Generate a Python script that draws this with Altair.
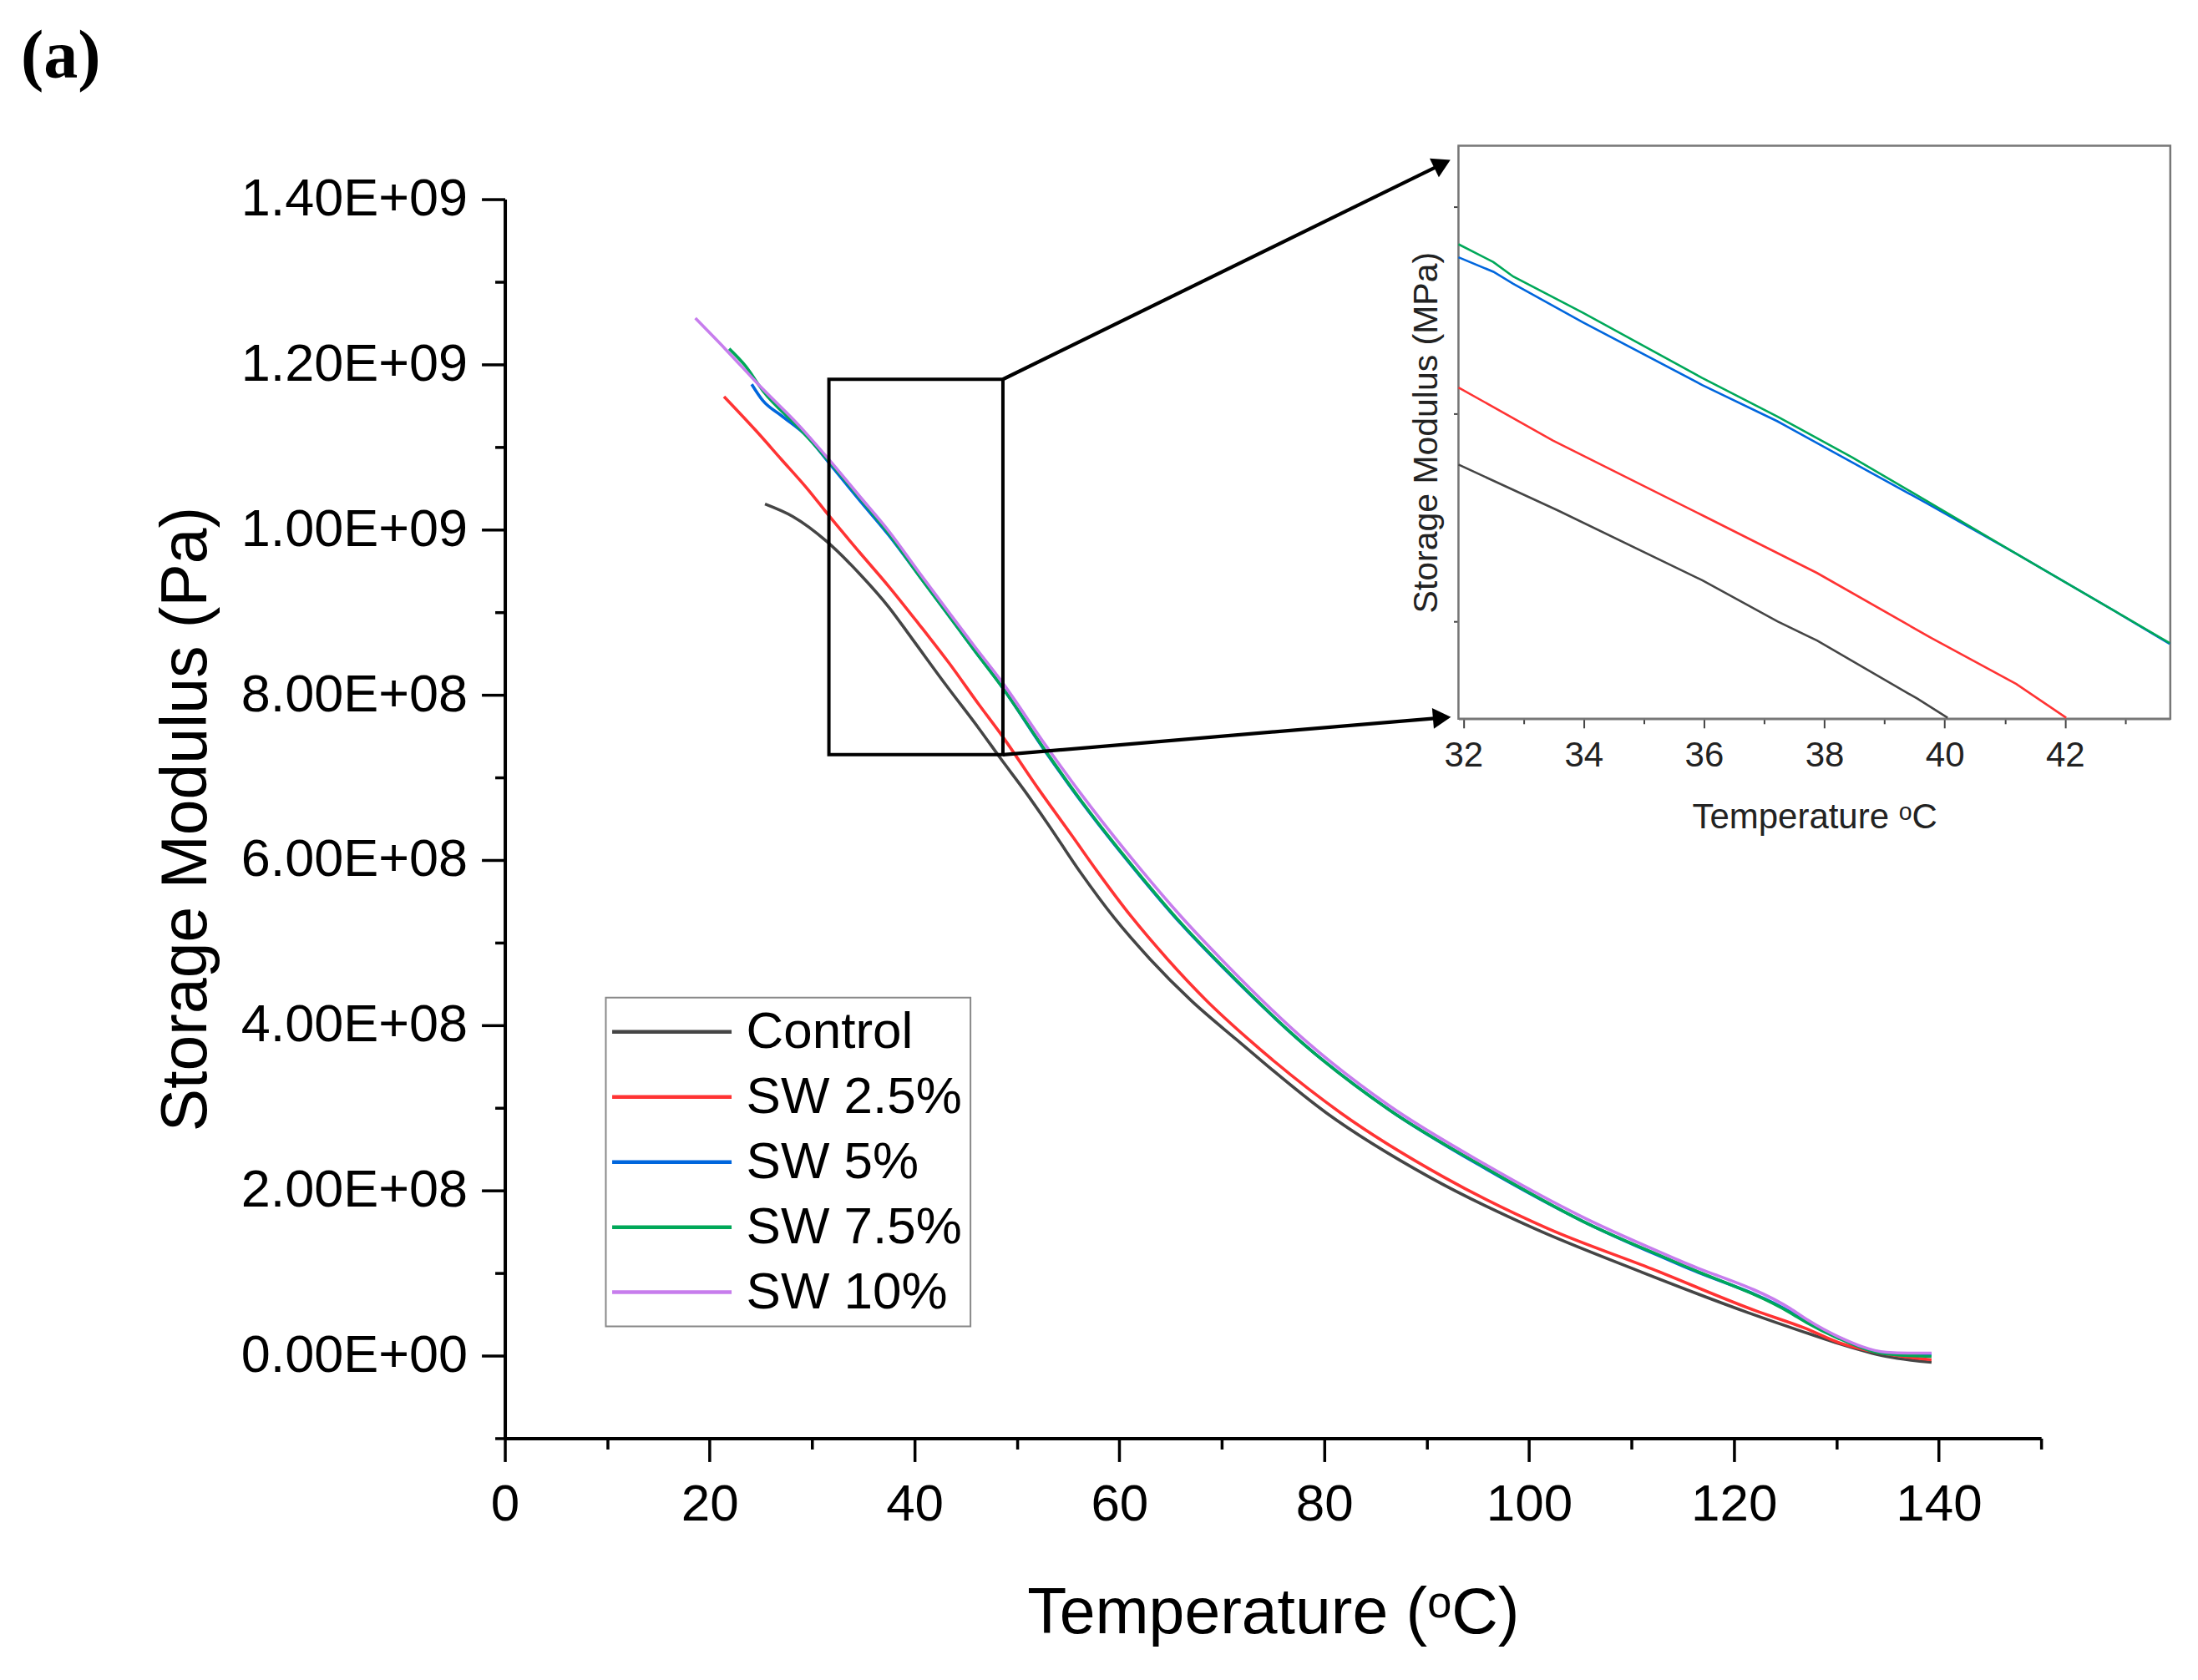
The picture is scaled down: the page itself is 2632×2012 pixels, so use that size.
import math
import altair as alt
import pandas as pd

# ---------------- data ----------------
SERIES = ["Control", "SW 2.5%", "SW 5%", "SW 7.5%", "SW 10%"]
COLORS = ["#454545", "#ff3333", "#0066dd", "#00a859", "#c77ded"]

# main chart: temperature (degC) and storage modulus (x 1e8 Pa)
CONTROL_T = [25.4, 28.1, 31.4, 34.6, 37.5, 39.7, 43.0, 46.3, 48.4, 50.8, 53.0, 56.2, 59.5, 63.0, 67.0, 71.4, 80.2, 90.3, 100.5, 110.6, 121.4, 126.5, 129.9, 134.9, 139.3]
CONTROL_E = [10.31, 10.16, 9.86, 9.47, 9.06, 8.69, 8.13, 7.59, 7.23, 6.83, 6.44, 5.85, 5.30, 4.80, 4.30, 3.83, 2.94, 2.16, 1.54, 1.03, 0.52, 0.30, 0.16, -0.01, -0.08]

SW25_T = [21.4, 24.5, 27.0, 29.5, 31.7, 34.6, 37.5, 40.4, 43.4, 46.3, 48.4, 52.1, 55.4, 57.8, 61.2, 64.7, 68.5, 72.8, 81.6, 91.7, 101.8, 112.0, 122.1, 127.0, 130.2, 134.9, 139.3]
SW25_E = [11.61, 11.20, 10.85, 10.50, 10.16, 9.73, 9.31, 8.86, 8.38, 7.88, 7.53, 6.86, 6.29, 5.87, 5.31, 4.80, 4.30, 3.81, 2.94, 2.16, 1.54, 1.05, 0.545, 0.33, 0.16, 0.02, -0.05]

SW5_T = [24.1, 25.2, 27.0, 29.5, 31.7, 34.6, 37.5, 40.4, 43.4, 45.9, 48.4, 52.8, 56.2, 62.0, 66.0, 70.1, 78.2, 86.3, 95.8, 105.2, 114.7, 125.5, 127.1, 130.2, 134.9, 139.3]
SW5_E = [11.76, 11.56, 11.38, 11.13, 10.80, 10.36, 9.93, 9.45, 8.95, 8.53, 8.12, 7.31, 6.72, 5.81, 5.23, 4.70, 3.75, 2.98, 2.26, 1.63, 1.10, 0.53, 0.41, 0.22, 0.03, 0.02]

SW75_T = [21.9, 23.5, 25.2, 28.8, 31.7, 34.6, 37.5, 40.4, 43.4, 45.9, 48.4, 52.8, 56.2, 62.0, 66.0, 70.1, 78.2, 86.3, 95.8, 105.2, 114.7, 125.5, 127.1, 130.2, 134.9, 139.3]
SW75_E = [12.19, 11.98, 11.68, 11.22, 10.82, 10.39, 9.95, 9.45, 8.95, 8.53, 8.12, 7.32, 6.73, 5.82, 5.24, 4.71, 3.75, 2.98, 2.27, 1.63, 1.11, 0.52, 0.40, 0.21, 0.02, -0.01]

SW10_T = [18.6, 21.5, 25.2, 28.8, 31.7, 34.6, 37.5, 40.4, 43.4, 45.9, 48.4, 52.8, 56.2, 62.0, 66.0, 70.1, 78.2, 86.3, 95.8, 105.2, 114.7, 125.5, 127.1, 130.2, 134.9, 137.0, 139.3]
SW10_E = [12.56, 12.19, 11.70, 11.25, 10.84, 10.41, 9.98, 9.49, 8.99, 8.58, 8.18, 7.39, 6.81, 5.90, 5.32, 4.78, 3.81, 3.03, 2.31, 1.68, 1.15, 0.57, 0.44, 0.23, 0.04, 0.03, 0.03]

# inset: temperature (degC) and storage modulus (MPa)
IN_CONTROL_T = [31.92, 33.57, 35.97, 37.22, 37.88, 39.54, 40.05]
IN_CONTROL_E = [975.6, 953.5, 919.8, 900.0, 890.7, 862.8, 853.5]
IN_SW25_T = [31.92, 33.49, 35.97, 37.88, 39.78, 41.19, 42.02]
IN_SW25_E = [1012.8, 987.2, 951.2, 923.3, 891.9, 869.8, 853.5]
IN_SW5_T = [31.92, 32.50, 32.83, 33.99, 35.97, 37.22, 38.46, 39.70, 41.19, 42.84, 43.74]
IN_SW5_E = [1075.6, 1068.6, 1062.8, 1044.2, 1014.0, 996.5, 976.7, 957.0, 932.6, 904.7, 889.1]
IN_SW75_T = [31.92, 32.50, 32.83, 33.99, 35.97, 37.22, 38.46, 39.70, 41.19, 42.84, 43.74]
IN_SW75_E = [1081.9, 1073.3, 1066.3, 1048.8, 1017.4, 998.8, 979.1, 958.1, 932.6, 904.7, 889.5]

# zoom box (main-chart data units) and arrow tips
BOX_T = [31.64, 48.63]
BOX_E = [7.275e8, 1.182e9]
ARROW_TIP_T = [92.41, 92.47]
ARROW_TIP_E = [1.4481e9, 7.733e8]

X_TICKS = list(range(0, 151, 10))
Y_TICKS = [v * 1e8 for v in range(-1, 15)]
Y_MAJOR = [0, 2e8, 4e8, 6e8, 8e8, 1e9, 1.2e9, 1.4e9]
Y_TICK_LABELS = ["0.00E+00", "2.00E+08", "4.00E+08", "6.00E+08", "8.00E+08", "1.00E+09", "1.20E+09", "1.40E+09"]
IN_X_TICKS = list(range(32, 44))
IN_Y_TICKS = [900, 1000, 1100]

# ---------------- layout ----------------
W, H = 1841, 1485
X_DOM = [0, 150]
Y_DOM = [-1e8, 1.4e9]
IN_X_DOM = [31.92, 43.75]
IN_Y_DOM = [853.0, 1129.4]
IN_X_RANGE = [1142.8, 1995.8]
IN_Y_RANGE = [622.7, -64.1]

FONT = "Liberation Sans"

rows = []
for name, ts, es in zip(SERIES, [CONTROL_T, SW25_T, SW5_T, SW75_T, SW10_T],
                        [CONTROL_E, SW25_E, SW5_E, SW75_E, SW10_E]):
    for t, e in zip(ts, es):
        rows.append({"series": name, "T": t, "E": e * 1e8})
df_main = pd.DataFrame(rows)

irows = []
for name, ts, es in zip(SERIES[:4], [IN_CONTROL_T, IN_SW25_T, IN_SW5_T, IN_SW75_T],
                        [IN_CONTROL_E, IN_SW25_E, IN_SW5_E, IN_SW75_E]):
    for t, e in zip(ts, es):
        irows.append({"series": name, "T": t, "E": e})
df_inset = pd.DataFrame(irows)

df_box = pd.DataFrame({"T": [BOX_T[0]], "T2": [BOX_T[1]], "E": [BOX_E[0]], "E2": [BOX_E[1]]})

starts_E = [BOX_E[1], BOX_E[0]]
sx = W / (X_DOM[1] - X_DOM[0])
sy = H / (Y_DOM[1] - Y_DOM[0])
arrows, heads = [], []
for tT, tE, s_E in zip(ARROW_TIP_T, ARROW_TIP_E, starts_E):
    dxp = (tT - BOX_T[1]) * sx
    dyp = -(tE - s_E) * sy
    L = math.hypot(dxp, dyp)
    ang = math.degrees(math.atan2(dyp, dxp)) % 360
    back = 12
    arrows.append({"T": BOX_T[1], "E": s_E, "T2": tT - back * dxp / L / sx, "E2": tE + back * dyp / L / sy})
    heads.append({"T": tT - back * dxp / L / sx, "E": tE + back * dyp / L / sy, "ang": ang})
df_arrows = pd.DataFrame(arrows)
df_heads = pd.DataFrame(heads)

y_label_expr = " : ".join(f"datum.value == {int(v)} ? '{l}'" for v, l in zip(Y_MAJOR, Y_TICK_LABELS)) + " : ''"

main_x_axis = alt.Axis(
    title="Temperature (ᵒC)", values=X_TICKS,
    labelExpr="datum.value % 20 == 0 ? datum.label : ''",
    tickSize={"condition": {"test": "datum.value % 20 != 0", "value": 13}, "value": 28},
    labelFontSize=62, titleFontSize=77, labelPadding=21, titlePadding=62,
    domainWidth=4, tickWidth=3.5, domainColor="black", tickColor="black",
    labelColor="black", titleColor="black", labelFont=FONT, titleFont=FONT,
    titleFontWeight="normal", grid=False, orient="bottom", labelFlush=False, labelLimit=600,
)
main_y_axis = alt.Axis(
    title="Storage Modulus (Pa)", values=Y_TICKS, labelExpr=y_label_expr,
    tickSize={"condition": {"test": "datum.value % 200000000 != 0", "value": 12}, "value": 28},
    labelFontSize=63, titleFontSize=77, labelPadding=17, titlePadding=142,
    domainWidth=4, tickWidth=3.5, domainColor="black", tickColor="black",
    labelColor="black", titleColor="black", labelFont=FONT, titleFont=FONT,
    titleFontWeight="normal", grid=False, orient="left", labelFlush=False, labelLimit=600,
)


def mx(field):
    return alt.X(field, type="quantitative", scale=alt.Scale(domain=X_DOM, nice=False, zero=False), axis=main_x_axis)


def my(field):
    return alt.Y(field, type="quantitative", scale=alt.Scale(domain=Y_DOM, nice=False, zero=False), axis=main_y_axis)


# legend line symbol: custom path 6 units long, anchored near the left edge of the symbol box
SYM_BOX = 47.7
color = alt.Color(
    "series:N",
    scale=alt.Scale(domain=SERIES, range=COLORS),
    legend=alt.Legend(
        title=None, orient="none", legendX=121, legendY=957,
        symbolType="M-1.4,0H4.6", symbolSize=SYM_BOX * SYM_BOX, symbolStrokeWidth=4.5,
        symbolFillColor="transparent",
        labelFontSize=62, labelFont=FONT, labelColor="black", labelOffset=143 - SYM_BOX + 1,
        labelLimit=600, padding=10, rowPadding=16, strokeColor="#888888", fillColor="white",
    ),
    sort=SERIES,
)

lines = alt.Chart(df_main).mark_line(strokeWidth=3.6, interpolate="monotone").encode(
    x=mx("T"), y=my("E"), color=color, order=alt.Order("T:Q"),
    detail="series:N",
)

box = alt.Chart(df_box).mark_rect(fillOpacity=0, stroke="black", strokeWidth=4).encode(
    x=mx("T"), x2="T2", y=my("E"), y2="E2"
)
arrow_lines = alt.Chart(df_arrows).mark_rule(stroke="black", strokeWidth=4.2).encode(
    x=mx("T"), x2="T2", y=my("E"), y2="E2"
)
arrow_heads = alt.Chart(df_heads).mark_point(shape="triangle-right", filled=True, color="black", size=620, opacity=1).encode(
    x=mx("T"), y=my("E"), angle=alt.Angle("ang:Q", scale=None)
)
panel = alt.Chart(pd.DataFrame({"t": ["(a)"]})).mark_text(
    font="Liberation Serif", fontWeight="bold", fontSize=82, align="left", baseline="alphabetic", color="black"
).encode(x=alt.value(-580), y=alt.value(-146), text="t:N")

main_layer = alt.layer(lines, box, arrow_lines, arrow_heads, panel)

in_x_axis = alt.Axis(
    title="Temperature ᵒC", values=IN_X_TICKS, orient="bottom", offset=IN_Y_RANGE[0] - H,
    labelExpr="datum.value % 2 == 0 ? datum.label : ''",
    tickSize={"condition": {"test": "datum.value % 2 != 0", "value": 6}, "value": 11},
    labelFontSize=42, titleFontSize=42, labelPadding=13, titlePadding=33,
    domainColor="#777777", domainWidth=2.5, tickColor="#444444", tickWidth=2,
    labelColor="#222222", titleColor="#222222", labelFont=FONT, titleFont=FONT,
    titleFontWeight="normal", grid=False, labelFlush=False,
)
in_y_axis = alt.Axis(
    title="Storage Modulus (MPa)", values=IN_Y_TICKS, orient="left", offset=-IN_X_RANGE[0],
    labels=False, tickSize=6, titleFontSize=41, titlePadding=10,
    domainColor="#777777", domainWidth=2.5, tickColor="#444444", tickWidth=2,
    titleColor="#222222", titleFont=FONT, titleFontWeight="normal", grid=False,
)


def ix(field):
    return alt.X(field, type="quantitative", scale=alt.Scale(domain=IN_X_DOM, range=IN_X_RANGE, nice=False, zero=False), axis=in_x_axis)


def iy(field):
    return alt.Y(field, type="quantitative", scale=alt.Scale(domain=IN_Y_DOM, range=IN_Y_RANGE, nice=False, zero=False), axis=in_y_axis)


df_frame = pd.DataFrame({"T": [IN_X_DOM[0]], "T2": [IN_X_DOM[1]], "E": [IN_Y_DOM[0]], "E2": [IN_Y_DOM[1]]})
frame = alt.Chart(df_frame).mark_rect(fill="white", stroke="#777777", strokeWidth=2.5).encode(
    x=ix("T"), x2="T2", y=iy("E"), y2="E2"
)
in_lines = alt.Chart(df_inset).mark_line(strokeWidth=2.6).encode(
    x=ix("T"), y=iy("E"), color=color, order=alt.Order("T:Q"), detail="series:N"
)
inset_layer = alt.layer(frame, in_lines)

chart = alt.layer(main_layer, inset_layer).resolve_scale(
    x="independent", y="independent"
).properties(
    width=W, height=H,
    autosize=alt.AutoSizeParams(type="none"),
    padding={"left": 597, "top": 230, "right": 180, "bottom": 280},
    background="white",
).configure_view(stroke=None).configure_legend(strokeWidth=2)

chart.save("out.html", embed_options={"renderer": "svg", "actions": False})
